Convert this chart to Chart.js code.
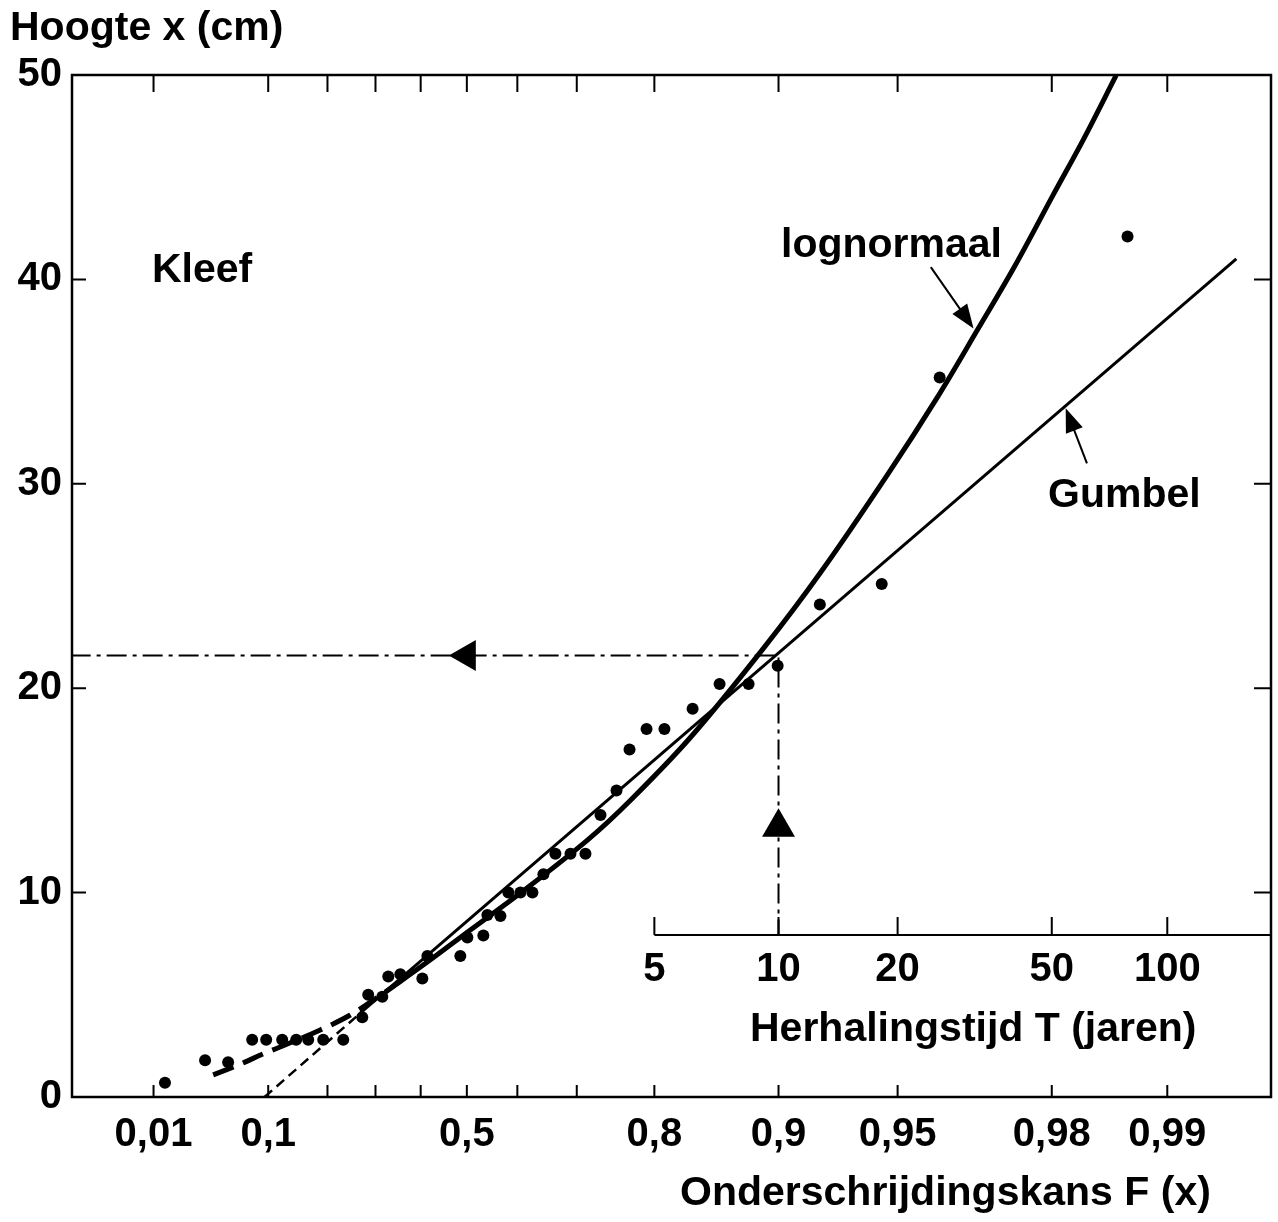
<!DOCTYPE html>
<html>
<head>
<meta charset="utf-8">
<script src="https://cdn.jsdelivr.net/npm/chart.js@4.4.1/dist/chart.umd.min.js"></script>
<style>
  html, body { margin: 0; padding: 0; background: #fff; overflow: hidden; }
  #wrap { width: 1278px; height: 1222px; }
</style>
</head>
<body>
<div id="wrap"><canvas id="chart"></canvas></div>
<script>
// observed yearly heights (cm) and their plotting position F
const obsF = [0.0136, 0.0343, 0.0532, 0.0791, 0.0972, 0.1205, 0.1431, 0.1640, 0.1918, 0.2316,
  0.2714, 0.2842, 0.3149, 0.3281, 0.3548, 0.4037, 0.4148, 0.4863, 0.5011, 0.5340,
  0.5421, 0.5679, 0.5832, 0.6057, 0.6273, 0.6464, 0.6664, 0.6904, 0.7129, 0.7342,
  0.7554, 0.7716, 0.7914, 0.8106, 0.8377, 0.8603, 0.8814, 0.8995, 0.9212, 0.9451,
  0.9610, 0.9873]
const obsX = [0.7, 1.8, 1.7, 2.8, 2.8, 2.8, 2.8, 2.8, 2.8, 2.8,
  3.9, 5.0, 4.9, 5.9, 6.0, 5.8, 6.9, 6.9, 7.8, 7.9,
  8.9, 8.85, 10.0, 10.0, 10.0, 10.9, 11.9, 11.9, 11.9, 13.8,
  15.0, 17.0, 18.0, 18.0, 19.0, 20.2, 20.2, 21.1, 24.1, 25.1,
  35.2, 42.1]

// lognormal fit (dashed below the data range)
const lognormDashF = [0.0403, 0.0654, 0.0958, 0.1364, 0.1860, 0.2460, 0.3215]
const lognormDashX = [1.08, 1.61, 2.15, 2.69, 3.28, 4.01, 5.13]
const lognormF = [0.3215, 0.4147, 0.5073, 0.6057, 0.7158, 0.7728, 0.8359, 0.8911,
  0.9216, 0.9470, 0.9606, 0.9689, 0.9751, 0.9802, 0.9835, 0.9864]
const lognormX = [5.13, 6.60, 8.17, 9.98, 12.57, 14.52, 17.60, 21.96,
  25.67, 30.46, 34.28, 37.56, 40.68, 44.16, 46.89, 49.98]

// Gumbel fit (straight on this paper)
const gumbelDashF = [0.095, 0.267]
const gumbelDashX = [0, 4.1]
const gumbelF = [0.267, 0.9934]
const gumbelX = [4.1, 41.0]

// reading for T = 10 years
const readF = [0.0005, 0.9, 0.9]
const readX = [21.6, 21.6, 7.92]
const readArrowF = [0.50, 0.9]
const readArrowX = [21.6, 13.2]

// label arrows (tail, tip)
const lognormArrowF = [0.9589, 0.9681]
const lognormArrowX = [40.6, 37.6]
const gumbelArrowF = [0.9838, 0.9816]
const gumbelArrowX = [31.0, 33.7]

const fTicks = [0.01, 0.1, 0.2, 0.3, 0.4, 0.5, 0.6, 0.7, 0.8, 0.9, 0.95, 0.98, 0.99]
const fLabels = ['0,01', '0,1', '', '', '', '0,5', '', '', '0,8', '0,9', '0,95', '0,98', '0,99']
const tYears = [5, 10, 20, 50, 100]
const tAxisLevel = 7.92

const FONT = '"Liberation Sans", Arial, Helvetica, sans-serif'
const gum = F => -Math.log(-Math.log(F))
const pts = (fs, xs) => fs.map((f, i) => ({ x: gum(f), y: xs[i] }))

function arrow(ctx, x0, y0, x1, y1, len, half) {
  const a = Math.atan2(y1 - y0, x1 - x0)
  const c = Math.cos(a), s = Math.sin(a)
  ctx.beginPath()
  ctx.moveTo(x0, y0)
  ctx.lineTo(x1 - c * len * 0.7, y1 - s * len * 0.7)
  ctx.stroke()
  ctx.beginPath()
  ctx.moveTo(x1, y1)
  ctx.lineTo(x1 - len * c + half * s, y1 - len * s - half * c)
  ctx.lineTo(x1 - len * c - half * s, y1 - len * s + half * c)
  ctx.closePath()
  ctx.fill()
}

const frame = {
  id: 'frame',
  afterDatasetsDraw(chart) {
    const { ctx, chartArea: a, scales: { x, y } } = chart
    const px = F => x.getPixelForValue(gum(F))
    ctx.save()
    ctx.strokeStyle = '#000'
    ctx.fillStyle = '#000'
    ctx.lineWidth = 2.5
    ctx.strokeRect(a.left, a.top, a.right - a.left, a.bottom - a.top)

    ctx.lineWidth = 2
    ctx.beginPath()
    fTicks.forEach(f => {
      const p = px(f)
      ctx.moveTo(p, a.bottom); ctx.lineTo(p, a.bottom - 12)
      ctx.moveTo(p, a.top); ctx.lineTo(p, a.top + 17)
    })
    y.ticks.forEach(t => {
      if (t.value <= y.min || t.value >= y.max) return
      const p = y.getPixelForValue(t.value)
      ctx.moveTo(a.left, p); ctx.lineTo(a.left + 14, p)
      ctx.moveTo(a.right, p); ctx.lineTo(a.right - 17, p)
    })
    // return period axis inside the plot
    const ty = y.getPixelForValue(tAxisLevel)
    ctx.moveTo(px(1 - 1 / tYears[0]), ty); ctx.lineTo(a.right, ty)
    tYears.forEach(T => {
      const p = px(1 - 1 / T)
      ctx.moveTo(p, ty); ctx.lineTo(p, ty - 18)
    })
    ctx.stroke()

    ctx.font = `bold 40px ${FONT}`
    ctx.textAlign = 'center'
    ctx.textBaseline = 'alphabetic'
    tYears.forEach(T => ctx.fillText(String(T), px(1 - 1 / T), ty + 46))

    ctx.font = `bold 41px ${FONT}`
    ctx.textAlign = 'left'
    ctx.fillText('Hoogte x (cm)', 10, 40)
    ctx.fillText('Kleef', 152, 282)
    ctx.fillText('lognormaal', 781, 257)
    ctx.fillText('Gumbel', 1048, 507)
    ctx.fillText('Herhalingstijd T (jaren)', 750, 1041)
    ctx.fillText('Onderschrijdingskans F (x)', 680, 1205)

    ctx.lineWidth = 2
    arrow(ctx, px(lognormArrowF[0]), y.getPixelForValue(lognormArrowX[0]),
      px(lognormArrowF[1]), y.getPixelForValue(lognormArrowX[1]), 24, 9)
    arrow(ctx, px(gumbelArrowF[0]), y.getPixelForValue(gumbelArrowX[0]),
      px(gumbelArrowF[1]), y.getPixelForValue(gumbelArrowX[1]), 24, 9)
    ctx.restore()
  }
}

new Chart(document.getElementById('chart'), {
  type: 'scatter',
  data: {
    datasets: [
      {
        label: 'waarnemingen',
        data: pts(obsF, obsX),
        pointRadius: 6,
        pointBackgroundColor: '#000',
        pointBorderWidth: 0,
        showLine: false
      },
      {
        label: 'aflezing pijlen',
        data: pts(readArrowF, readArrowX),
        pointStyle: 'triangle',
        pointRotation: [-90, 0],
        pointRadius: [18, 19],
        pointBackgroundColor: '#000',
        pointBorderWidth: 0,
        showLine: false
      },
      {
        label: 'lognormaal',
        data: pts(lognormF, lognormX),
        showLine: true,
        borderColor: '#000',
        borderWidth: 5,
        pointRadius: 0,
        tension: 0.35
      },
      {
        label: 'lognormaal (extrapolatie)',
        data: pts(lognormDashF, lognormDashX),
        showLine: true,
        borderColor: '#000',
        borderWidth: 5,
        borderDash: [22, 10],
        pointRadius: 0,
        tension: 0.35
      },
      {
        label: 'Gumbel',
        data: pts(gumbelF, gumbelX),
        showLine: true,
        borderColor: '#000',
        borderWidth: 3,
        pointRadius: 0
      },
      {
        label: 'Gumbel (extrapolatie)',
        data: pts(gumbelDashF, gumbelDashX),
        showLine: true,
        borderColor: '#000',
        borderWidth: 2.5,
        borderDash: [10, 6],
        pointRadius: 0
      },
      {
        label: 'aflezing',
        data: pts(readF, readX),
        showLine: true,
        borderColor: '#000',
        borderWidth: 2,
        borderDash: [20, 6, 4, 6],
        pointRadius: 0
      }
    ]
  },
  options: {
    responsive: true,
    maintainAspectRatio: false,
    animation: false,
    layout: { autoPadding: false, padding: { top: 75, right: 7, left: 0, bottom: 0 } },
    plugins: {
      legend: { display: false },
      tooltip: { enabled: false }
    },
    scales: {
      x: {
        type: 'linear',
        min: -2.02,
        max: 5.227,
        afterBuildTicks: scale => {
          scale.ticks = fTicks.map(f => ({ value: gum(f) }))
        },
        afterFit: scale => {
          scale.height = 125
          scale.paddingLeft = 0
          scale.paddingRight = 0
        },
        ticks: {
          autoSkip: false,
          maxRotation: 0,
          padding: 14,
          color: '#000',
          font: { family: FONT, size: 40, weight: 'bold' },
          callback: (value, index) => fLabels[index]
        },
        grid: { drawOnChartArea: false, drawTicks: false },
        border: { display: false }
      },
      y: {
        min: 0,
        max: 50,
        afterFit: scale => { scale.width = 72 },
        ticks: {
          stepSize: 10,
          padding: 10,
          color: '#000',
          font: { family: FONT, size: 40, weight: 'bold' }
        },
        grid: { drawOnChartArea: false, drawTicks: false },
        border: { display: false }
      }
    }
  },
  plugins: [frame]
})
</script>
</body>
</html>
